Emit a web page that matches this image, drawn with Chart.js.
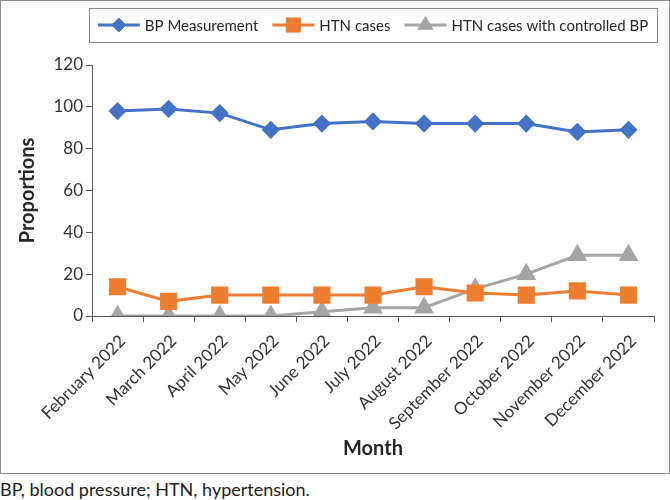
<!DOCTYPE html>
<html>
<head>
<meta charset="utf-8">
<script src="https://cdn.jsdelivr.net/npm/chart.js@4.4.1/dist/chart.umd.min.js"></script>
<style>
  body { margin: 0; background: #fff; font-family: Lato, sans-serif; }
  #frame { position: relative; width: 668px; height: 472px; border: 1px solid #8a8a8a; }
  #note { margin: 5px 0 0 0; font-size: 18px; color: #222; line-height: 20px; }
</style>
</head>
<body>
<div id="frame"><canvas id="chart" width="668" height="472"></canvas></div>
<p id="note">BP, blood pressure; HTN, hypertension.</p>
<script>
const months = ['February 2022', 'March 2022', 'April 2022', 'May 2022', 'June 2022', 'July 2022',
  'August 2022', 'September 2022', 'October 2022', 'November 2022', 'December 2022'];
const bpMeasurement = [98, 99, 97, 89, 92, 93, 92, 92, 92, 88, 89];
const htnCases = [14, 7, 10, 10, 10, 10, 14, 11, 10, 12, 10];
const htnControlled = [0, 0, 0, 0, 2, 4, 4, 13, 20, 29, 29];

// legend drawn as line + marker, like the original spreadsheet chart
const lineLegend = {
  id: 'lineLegend',
  afterDraw(chart) {
    const ctx = chart.ctx;
    const area = chart.chartArea;
    ctx.save();
    ctx.font = '15px Lato';
    const seg = 42, gap = 5, between = 14, padX = 9;
    const items = chart.data.datasets.map(ds => ({ds, w: ctx.measureText(ds.label).width}));
    const total = items.reduce((s, it) => s + seg + gap + it.w, 0) + between * (items.length - 1);
    let x = (area.left + area.right) / 2 - total / 2;
    const top = 7, h = 34, cy = top + h / 2;
    ctx.strokeStyle = '#8a8a8a';
    ctx.lineWidth = 1;
    ctx.strokeRect(Math.round(x - padX) + 0.5, top + 0.5, Math.round(total + 2 * padX), h);
    items.forEach(it => {
      const ds = it.ds;
      ctx.strokeStyle = ds.borderColor;
      ctx.lineWidth = ds.borderWidth;
      ctx.beginPath();
      ctx.moveTo(x, cy);
      ctx.lineTo(x + seg, cy);
      ctx.stroke();
      ctx.fillStyle = ds.pointBackgroundColor;
      ctx.strokeStyle = ds.pointBorderColor;
      ctx.lineWidth = 1;
      Chart.helpers.drawPoint(ctx, {pointStyle: ds.pointStyle, radius: ds.pointRadius, borderWidth: 1, rotation: 0}, x + seg / 2, cy);
      ctx.fillStyle = '#262626';
      ctx.textBaseline = 'middle';
      ctx.textAlign = 'left';
      ctx.fillText(ds.label, x + seg + gap, cy + 1);
      x += seg + gap + it.w + between;
    });
    ctx.restore();
  }
};

new Chart(document.getElementById('chart'), {
  type: 'line',
  data: {
    labels: months,
    datasets: [
      {label: 'BP Measurement', data: bpMeasurement, borderColor: '#4472C4', pointBackgroundColor: '#4472C4', pointBorderColor: '#4472C4', pointStyle: 'rectRot', pointRadius: 7, borderWidth: 3},
      {label: 'HTN cases', data: htnCases, borderColor: '#ED7D31', pointBackgroundColor: '#ED7D31', pointBorderColor: '#ED7D31', pointStyle: 'rect', pointRadius: 10, borderWidth: 3},
      {label: 'HTN cases with controlled BP', data: htnControlled, borderColor: '#A5A5A5', pointBackgroundColor: '#A5A5A5', pointBorderColor: '#A5A5A5', pointStyle: 'triangle', pointRadius: 8.5, borderWidth: 3}
    ]
  },
  options: {
    responsive: false,
    animation: false,
    events: [],
    layout: { padding: { top: 64, right: 15, left: 0, bottom: 0 } },
    plugins: { legend: { display: false }, tooltip: { enabled: false } },
    scales: {
      x: {
        offset: true,
        grid: { offset: true, drawOnChartArea: false, tickLength: 6, color: '#595959' },
        border: { color: '#595959', width: 1 },
        ticks: { minRotation: 45, maxRotation: 45, font: { family: 'Lato', size: 17 }, color: '#333', padding: 9, labelOffset: 5 },
        title: { display: true, text: 'Month', font: { family: 'Lato', size: 20, weight: 'bold' }, color: '#262626', padding: { top: 4, bottom: 12 } },
        afterFit(s) { s.height = 157; }
      },
      y: {
        min: 0, max: 120,
        ticks: { stepSize: 20, font: { family: 'Lato', size: 17 }, color: '#333', padding: 3 },
        grid: { drawOnChartArea: false, tickLength: 6, color: '#595959' },
        border: { color: '#595959', width: 1 },
        title: { display: true, text: 'Proportions', font: { family: 'Lato', size: 20, weight: 'bold' }, color: '#262626', padding: { top: 15, bottom: 4 } },
        afterFit(s) { s.width = 91; }
      }
    }
  },
  plugins: [lineLegend]
});
</script>
</body>
</html>
